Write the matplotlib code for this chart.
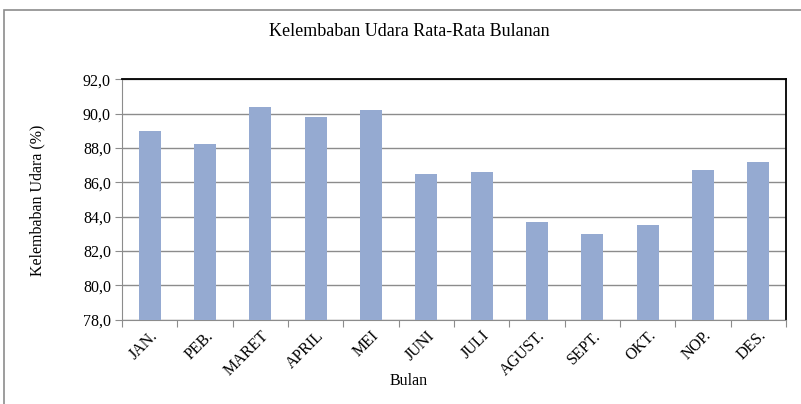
import matplotlib
matplotlib.use("Agg")
import matplotlib.pyplot as plt
from matplotlib.patches import Rectangle
import numpy as np

months = ["JAN.", "PEB.", "MARET", "APRIL", "MEI", "JUNI", "JULI",
          "AGUST.", "SEPT.", "OKT.", "NOP.", "DES."]
humidity = [89.0, 88.2, 90.4, 89.8, 90.2, 86.5, 86.6, 83.7, 83.0, 83.5, 86.7, 87.2]
yticks = [78, 80, 82, 84, 86, 88, 90, 92]

plt.rcParams['font.family'] = ['Liberation Serif', 'DejaVu Serif']

W, H = 801, 404
fig = plt.figure(figsize=(W/100, H/100), dpi=100)
# outer chart frame
fig.patches.append(Rectangle((4/W, -0.1), 1.0, (H-10)/H + 0.1, transform=fig.transFigure,
                             fill=False, edgecolor='#8c8c8c', linewidth=1.2))

left, right, top, bottom = 122, 786, 79.3, 319.5
ax = fig.add_axes([left/W, 1-bottom/H, (right-left)/W, (bottom-top)/H])
x = np.arange(len(months))
ax.bar(x, humidity, width=0.40, color='#95aad1', zorder=3)
ax.set_xlim(-0.5, len(months)-0.5)
ax.set_ylim(78, 92)
ax.set_yticks(yticks)
ax.set_yticklabels([f"{v:.1f}".replace('.', ',') for v in yticks], fontsize=11.5)
ax.yaxis.grid(True, color='#8c8c8c', linewidth=1.0, zorder=0)
ax.set_xticks(np.arange(-0.5, len(months)+0.5, 1.0))
ax.set_xticklabels([])
ax.set_xticks(x, minor=True)
ax.set_xticklabels(months, minor=True, rotation=45, ha='right', va='top',
                   rotation_mode='anchor', fontsize=11.5)
ax.tick_params(axis='x', which='minor', length=0, pad=6)
ax.tick_params(axis='x', which='major', length=5, color='#8c8c8c', direction='out')
ax.tick_params(axis='y', length=5, color='#8c8c8c', direction='out', pad=3)
for s in ['left', 'bottom']:
    ax.spines[s].set_color('#8c8c8c')
for s in ['top', 'right']:
    ax.spines[s].set_color('black')
    ax.spines[s].set_linewidth(1.3)

fig.text(409/W, 1-32/H, "Kelembaban Udara Rata-Rata Bulanan", ha='center', va='center', fontsize=13)
fig.text(409/W, 1-381/H, "Bulan", ha='center', va='center', fontsize=11.5)
fig.text(37/W, 1-200/H, "Kelembaban Udara (%)", ha='center', va='center', rotation=90, fontsize=11.5)

fig.savefig("out.png", dpi=100)
